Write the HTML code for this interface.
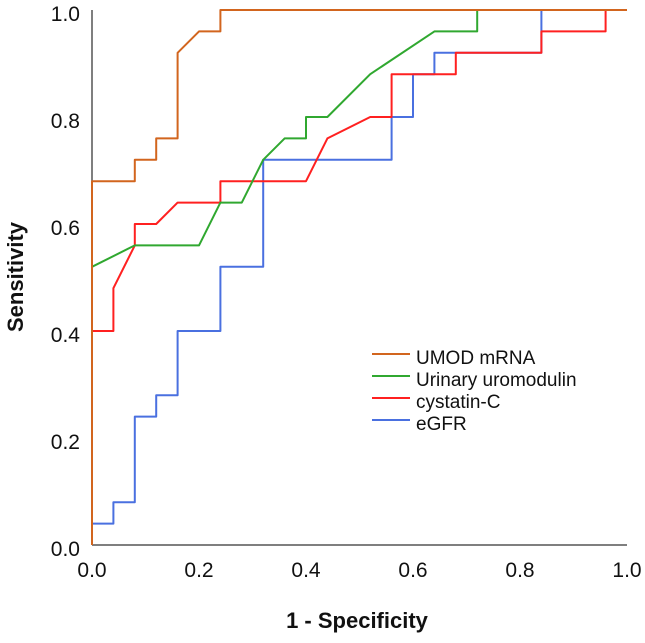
<!DOCTYPE html>
<html><head><meta charset="utf-8"><style>
html,body{margin:0;padding:0;background:#fff;}
svg text{font-family:"Liberation Sans",Arial,sans-serif;}
</style></head><body>
<svg id="chart" width="645" height="638" viewBox="0 0 645 638" xmlns="http://www.w3.org/2000/svg">
<g id="axes"></g>
<g id="series"></g>
<g id="legend"></g>
</svg>
<script>
const xTicks = [0, 0.2, 0.4, 0.6, 0.8, 1.0];
const yTicks = [0, 0.2, 0.4, 0.6, 0.8, 1.0];
const seriesNames = ["UMOD mRNA", "Urinary uromodulin", "cystatin-C", "eGFR"];
const seriesColors = ["#d2651e", "#30a830", "#ff2020", "#4a70e0"];
const umodX = [0,0,0.08,0.08,0.12,0.12,0.16,0.16,0.2,0.24,0.24,1];
const umodY = [0,0.68,0.68,0.72,0.72,0.76,0.76,0.92,0.96,0.96,1,1];
const uromX = [0,0,0.08,0.2,0.24,0.28,0.32,0.36,0.4,0.4,0.44,0.52,0.64,0.72,0.72,1];
const uromY = [0,0.52,0.56,0.56,0.64,0.64,0.72,0.76,0.76,0.8,0.8,0.88,0.96,0.96,1,1];
const cysX = [0,0,0.04,0.04,0.08,0.08,0.12,0.16,0.24,0.24,0.4,0.44,0.52,0.56,0.56,0.68,0.68,0.84,0.84,0.96,0.96,1];
const cysY = [0,0.4,0.4,0.48,0.56,0.6,0.6,0.64,0.64,0.68,0.68,0.76,0.8,0.8,0.88,0.88,0.92,0.92,0.96,0.96,1,1];
const egfrX = [0,0,0.04,0.04,0.08,0.08,0.12,0.12,0.16,0.16,0.24,0.24,0.32,0.32,0.56,0.56,0.6,0.6,0.64,0.64,0.84,0.84,1];
const egfrY = [0,0.04,0.04,0.08,0.08,0.24,0.24,0.28,0.28,0.4,0.4,0.52,0.52,0.72,0.72,0.8,0.8,0.88,0.88,0.92,0.92,1,1];

const NS = "http://www.w3.org/2000/svg";
const X0 = 92, X1 = 627, Y0 = 545, Y1 = 10;
const sx = v => X0 + v * (X1 - X0);
const sy = v => Y0 - v * (Y0 - Y1);
function mk(tag, attrs, parent){const e=document.createElementNS(NS,tag);for(const k in attrs)e.setAttribute(k,attrs[k]);parent.appendChild(e);return e;}
const axes = document.getElementById('axes');
const xl = mk('line',{x1:X0,y1:Y0,x2:X1,y2:Y0,stroke:'#555','stroke-width':1.5},axes);


const yl = mk('line',{x1:X0,y1:Y0,x2:X0,y2:Y1,stroke:'#555','stroke-width':1.5},axes);


xTicks.forEach(v=>{
  const t = mk('text',{x:sx(v),y:577,'text-anchor':'middle','font-size':21,fill:'#111'},axes);
  t.textContent = v.toFixed(1);
  
  
});
yTicks.forEach(v=>{
  const t = mk('text',{x:80,y:sy(v)+11,'text-anchor':'end','font-size':21,fill:'#111'},axes);
  t.textContent = v.toFixed(1);
  
  
});
const xt = mk('text',{x:357,y:628,'text-anchor':'middle','font-size':22,'font-weight':'bold',fill:'#111'},axes);
xt.textContent = '1 - Specificity';


const yt = mk('text',{x:0,y:0,'text-anchor':'middle','font-size':22,'font-weight':'bold',fill:'#111',transform:'translate(23,277) rotate(-90)'},axes);
yt.textContent = 'Sensitivity';



const seriesG = document.getElementById('series');
const allX = [umodX, uromX, cysX, egfrX];
const allY = [umodY, uromY, cysY, egfrY];
const names = ['umod-mrna-curve','urinary-uromodulin-curve','cystatin-c-curve','egfr-curve'];
[3,2,1,0].forEach(i=>{
  const pts = allX[i].map((x,j)=>sx(x).toFixed(1)+','+sy(allY[i][j]).toFixed(1)).join(' ');
  const p = mk('polyline',{points:pts,fill:'none',stroke:seriesColors[i],'stroke-width':2,'stroke-linejoin':'round'},seriesG);
  
  
});

const legG = document.getElementById('legend');


seriesNames.forEach((n,i)=>{
  const y = 354 + i*22;
  const l = mk('line',{x1:372,y1:y,x2:410,y2:y,stroke:seriesColors[i],'stroke-width':2},legG);
  
  
  const t = mk('text',{x:416,y:y+10,'font-size':19,fill:'#111'},legG);
  t.textContent = n;
  
  
});
</script>
</body></html>
